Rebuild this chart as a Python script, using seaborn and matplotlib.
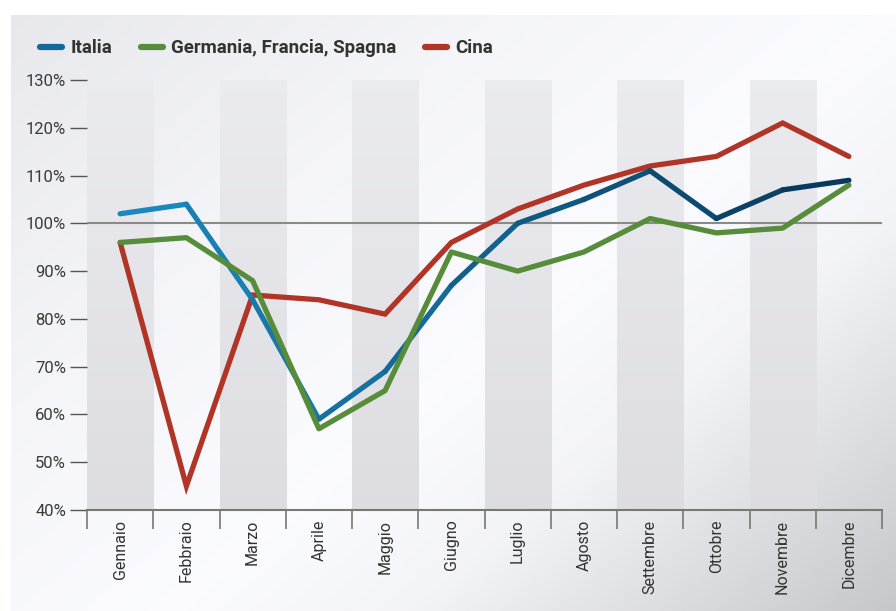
import matplotlib
matplotlib.use("Agg")
import matplotlib.pyplot as plt
from matplotlib.lines import Line2D
from matplotlib.transforms import ScaledTranslation
import numpy as np
import pandas as pd
import seaborn as sns

mesi = ["Gennaio", "Febbraio", "Marzo", "Aprile", "Maggio", "Giugno",
        "Luglio", "Agosto", "Settembre", "Ottobre", "Novembre", "Dicembre"]
italia = [102, 104, 84, 59, 69, 87, 100, 105, 111, 101, 107, 109]
europa = [96, 97, 88, 57, 65, 94, 90, 94, 101, 98, 99, 108]
cina = [96, 45, 85, 84, 81, 96, 103, 108, 112, 114, 121, 114]
y_ticks = [40, 50, 60, 70, 80, 90, 100, 110, 120, 130]

sns.set_theme(style="white")
plt.rcParams["font.family"] = ["Roboto", "DejaVu Sans"]

fig = plt.figure(figsize=(8.96, 6.11), dpi=100, facecolor="white")

# diagonal background wash on the chart panel
bg = fig.add_axes([11 / 896, 0, 885 / 896, 596 / 611], zorder=-10)
yy, xx = np.mgrid[0:1:240j, 0:1:360j]
t = xx * 0.55 + yy * 0.45
light = np.interp(t, [0.0, 0.3, 0.55, 0.7, 1.0], [0.915, 0.965, 0.99, 0.96, 0.785])
img = np.dstack([light * 0.992, light * 0.994, light * 1.0 + 0.012]).clip(0, 1)
bg.imshow(img, aspect="auto", extent=[0, 1, 0, 1], origin="upper")
bg.axis("off")

ax = fig.add_axes([87 / 896, 1 - 510 / 611, 795 / 896, 430 / 611])
ax.patch.set_alpha(0)

# alternating month bands, slightly darker towards the bottom
band = np.linspace(0.922, 0.868, 100)[:, None]
band_img = np.dstack([band, band + 0.001, band + 0.016]).clip(0, 1)
for i in range(0, 12, 2):
    ax.imshow(band_img, extent=[i - 0.5, i + 0.5, 40, 130], aspect="auto",
              origin="upper", zorder=0)

ax.axhline(100, color="#8a8a8a", lw=1.5, zorder=1)

x = np.arange(12)
df_eu = pd.DataFrame({"x": x, "y": europa})
df_cn = pd.DataFrame({"x": x, "y": cina})

# Italia drawn segment by segment, shading from light blue to navy
c0 = np.array([0x1c, 0x8c, 0xc2]) / 255
c1 = np.array([0x08, 0x36, 0x58]) / 255
for i in range(11):
    f = (i + 0.5) / 11
    col = c0 * (1 - f) + c1 * f
    seg = pd.DataFrame({"x": x[i:i + 2], "y": italia[i:i + 2]})
    sns.lineplot(data=seg, x="x", y="y", ax=ax, color=col, lw=3.8,
                 solid_capstyle="round", solid_joinstyle="round", zorder=3)
sns.lineplot(data=df_eu, x="x", y="y", ax=ax, color="#578c3a", lw=3.8,
             solid_capstyle="round", solid_joinstyle="round", zorder=4)
sns.lineplot(data=df_cn, x="x", y="y", ax=ax, color="#b03527", lw=3.8,
             solid_capstyle="round", solid_joinstyle="miter", zorder=2)

ax.set_xlim(-0.5, 11.5)
ax.set_ylim(40, 130)
ax.set_xlabel("")
ax.set_ylabel("")

ax.set_yticks(y_ticks)
ax.set_yticklabels([f"{v}%" for v in y_ticks], fontsize=12, color="#3a3a3a")
ax.tick_params(axis="y", length=12, width=1, color="#555555", pad=3, left=True)

ax.set_xticks(x)
ax.set_xticklabels(mesi, rotation=90, fontsize=11.5, color="#333333")
shift = ScaledTranslation(4 / 100, 0, fig.dpi_scale_trans)
for lab in ax.get_xticklabels():
    lab.set_transform(lab.get_transform() + shift)
ax.set_xticks(np.arange(-0.5, 12, 1), minor=True)
ax.tick_params(axis="x", which="major", length=0, pad=7, bottom=True)
ax.tick_params(axis="x", which="minor", length=14, width=1.2, color="#777777",
               bottom=True)

for s in ["top", "right", "left"]:
    ax.spines[s].set_visible(False)
ax.spines["bottom"].set_color("#777777")
ax.spines["bottom"].set_linewidth(1.5)

handles = [
    Line2D([], [], color="#14699a", lw=4.5, solid_capstyle="round"),
    Line2D([], [], color="#578c3a", lw=4.5, solid_capstyle="round"),
    Line2D([], [], color="#b03527", lw=4.5, solid_capstyle="round"),
]
fig.legend(handles, ["Italia", "Germania, Francia, Spagna", "Cina"],
           loc="center left", bbox_to_anchor=(0.026, 0.921), ncol=3,
           frameon=False, handlelength=1.15, handletextpad=0.45,
           columnspacing=1.55, prop={"size": 13.5, "weight": "bold"},
           labelcolor="#333333")

fig.savefig("out.png", dpi=100)
